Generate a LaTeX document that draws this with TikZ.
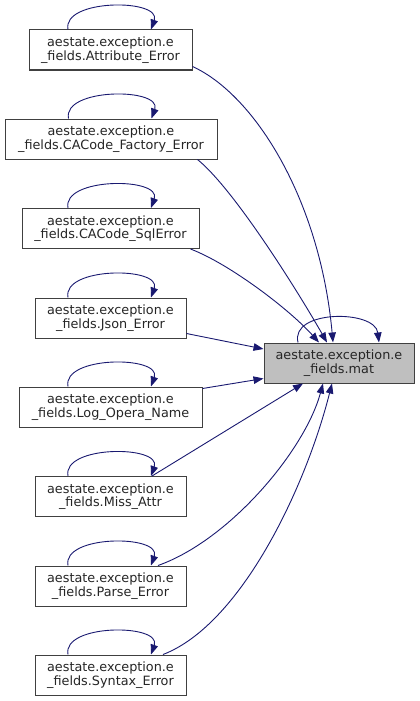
\documentclass[tikz,border=0pt]{standalone}
\usepackage{fontspec}
\setmainfont{DejaVu Sans}
\usetikzlibrary{arrows.meta,calc}
\definecolor{edgeblue}{RGB}{25,25,112}
\definecolor{boxline}{RGB}{64,64,64}
\definecolor{matfill}{RGB}{191,191,191}
\tikzset{
  cls/.style={draw=boxline, line width=1pt, fill=white, rectangle, inner sep=0pt,
    minimum height=40pt, align=center, font=\fontsize{12.8}{13.5}\selectfont, text=black!85},
  dep/.style={draw=edgeblue, line width=0.9pt, -{Triangle[length=10pt,width=7.5pt]}},
}
\begin{document}
\begin{tikzpicture}[x=1pt,y=-1pt]
\useasboundingbox (0,0) rectangle (420,701);
\node[cls, minimum width=163pt] (A) at (110.5,50) {aestate.exception.e\\\_fields.Attribute\_Error};
\node[cls, minimum width=212pt] (B) at (111,139) {aestate.exception.e\\\_fields.CACode\_Factory\_Error};
\node[cls, minimum width=177pt] (C) at (110.5,228.5) {aestate.exception.e\\\_fields.CACode\_SqlError};
\node[cls, minimum width=151pt] (D) at (110.5,318) {aestate.exception.e\\\_fields.Json\_Error};
\node[cls, minimum width=183pt] (E) at (110.5,407) {aestate.exception.e\\\_fields.Log\_Opera\_Name};
\node[cls, minimum width=151pt] (F) at (110.5,496.5) {aestate.exception.e\\\_fields.Miss\_Attr};
\node[cls, minimum width=151pt] (G) at (110.5,586) {aestate.exception.e\\\_fields.Parse\_Error};
\node[cls, minimum width=151pt] (H) at (110.5,675) {aestate.exception.e\\\_fields.Syntax\_Error};
\node[cls, minimum width=150pt, fill=matfill] (M) at (339,363) {aestate.exception.e\\\_fields.mat};
% self loops
\foreach \n in {A,B,C,D,E,F,G,H}{
  \draw[dep] ($(\n.north)+(-42.5,0)$) .. controls +(-6,-31) and +(11,-31) .. ($(\n.north)+(40.5,0)$);
}
\draw[dep] ($(M.north)+(-41,0)$) .. controls +(-8,-33) and +(-4,-33) .. ($(M.north)+(40,0)$);
% edges into mat
\draw[dep] ([yshift=4pt]A.south east) .. controls (255,95) and (320,200) .. ($(M.north)+(-6,0)$);
\draw[dep] ($(B.south east)+(-20,0)$) .. controls (235,190) and (300,295) .. ($(M.north)+(-12,0)$);
\draw[dep] ($(C.south east)+(-9,0)$) .. controls (230,264) and (290,310) .. ($(M.north)+(-20,0)$);
\draw[dep] ([yshift=5pt]D.south east) -- ($(M.west)+(0,-14)$);
\draw[dep] ([yshift=-2pt]E.north east) -- ($(M.south west)+(0,-5)$);
\draw[dep] ($(F.north)+(41.5,0)$) -- ($(M.south)+(-36,0)$);
\draw[dep] ($(G.north)+(47.5,0)$) .. controls (230,540) and (305,450) .. ($(M.south)+(-16,0)$);
\draw[dep] ($(H.north)+(52.5,0)$) .. controls (240,625) and (305,490) .. ($(M.south)+(-7,0)$);
\end{tikzpicture}
\end{document}
